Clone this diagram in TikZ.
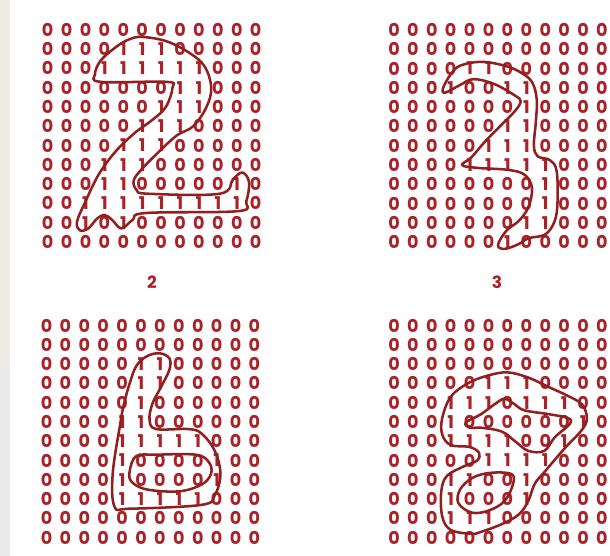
\documentclass[tikz,border=0pt]{standalone}
\usepackage{fontspec}
\setmainfont{Poppins}
\usetikzlibrary{positioning}
\definecolor{inkred}{RGB}{170,34,40}
\definecolor{penred}{RGB}{146,30,32}
\definecolor{marginbeige}{RGB}{237,235,227}
\definecolor{margingrey}{RGB}{234,234,234}

\begin{document}
\begin{tikzpicture}[
    x=0.025cm, y=-0.025cm,
    cell/.style={inner sep=0pt, text=inkred, font=\bfseries\fontsize{12.5}{12.5}\selectfont},
    caption/.style={inner sep=0pt, text=inkred, font=\bfseries\fontsize{12}{12}\selectfont},
    penline/.style={draw=penred, line width=1.8pt, line join=round},
    gridunits/.style={x=0.4725cm, y=-0.482cm}
]
    \useasboundingbox (0,0) rectangle (610,556);
    \fill[marginbeige] (0,0) rectangle (10,367);
    \fill[margingrey] (0,367) rectangle (10,556);

    % digit 2
    \begin{scope}[shift={(47.7,29.8)}, gridunits]
        \foreach \line [count=\r from 0] in {
            {0,0,0,0,0,0,0,0,0,0,0,0},
            {0,0,0,0,1,1,1,0,0,0,0,0},
            {0,0,0,1,1,1,1,1,1,0,0,0},
            {0,0,0,0,0,0,0,1,1,0,0,0},
            {0,0,0,0,0,0,1,1,1,0,0,0},
            {0,0,0,0,0,1,1,1,0,0,0,0},
            {0,0,0,0,1,1,1,0,0,0,0,0},
            {0,0,0,1,1,1,0,0,0,0,0,0},
            {0,0,0,1,1,0,0,0,0,0,1,0},
            {0,0,1,1,1,1,1,1,1,1,1,0},
            {0,0,1,0,1,0,0,0,0,0,0,0},
            {0,0,0,0,0,0,0,0,0,0,0,0}}
            \foreach \v [count=\c from 0] in \line
                \node[cell] (two-\r-\c) at (\c,\r) {\v};
        \draw[penline] plot[smooth cycle, tension=0.6] coordinates {
            (5.0,0.37) (6.3,0.6) (7.5,1.2) (8.3,1.9) (8.65,3.0) (8.4,4.0) (7.7,5.0)
            (6.8,5.5) (5.7,6.5) (5.0,7.2) (4.55,7.8) (4.7,8.3) (5.3,8.5) (9.1,8.5)
            (9.8,7.75) (10.3,7.4) (10.65,7.9) (10.5,8.9) (10.1,9.4) (5.2,9.5) (4.5,9.85)
            (3.9,10.3) (3.4,9.85) (3.0,9.6) (2.6,9.8) (2.15,10.3) (1.7,10.4) (1.55,9.95)
            (2.0,8.9) (2.7,7.5) (3.6,6.3) (4.6,5.35) (5.5,4.7) (6.25,4.0) (6.6,3.0)
            (6.3,2.7) (2.8,2.7) (2.5,2.3) (2.8,1.6) (3.6,0.9) (4.3,0.5)};
    \end{scope}
    \node[caption] (captwo) at (152,282) {2};

    % digit 3
    \begin{scope}[shift={(394,30)}, gridunits]
        \foreach \line [count=\r from 0] in {
            {0,0,0,0,0,0,0,0,0,0,0,0},
            {0,0,0,0,0,0,0,0,0,0,0,0},
            {0,0,0,0,1,1,0,0,0,0,0,0},
            {0,0,0,1,0,0,1,1,0,0,0,0},
            {0,0,0,0,0,0,0,1,0,0,0,0},
            {0,0,0,0,0,0,1,1,0,0,0,0},
            {0,0,0,0,0,1,1,1,0,0,0,0},
            {0,0,0,0,1,1,1,1,1,0,0,0},
            {0,0,0,0,0,0,0,0,1,0,0,0},
            {0,0,0,0,0,0,0,0,1,0,0,0},
            {0,0,0,0,0,0,0,1,1,0,0,0},
            {0,0,0,0,0,0,1,0,0,0,0,0}}
            \foreach \v [count=\c from 0] in \line
                \node[cell] (three-\r-\c) at (\c,\r) {\v};
        \draw[penline] plot[smooth cycle, tension=0.6] coordinates {
            (3.0,2.3) (3.5,1.85) (4.6,1.65) (5.85,1.85) (6.7,2.2) (7.3,2.7) (7.55,3.6)
            (7.5,4.8) (7.4,6.0) (7.6,6.55) (8.25,6.75) (8.6,7.3) (8.65,8.9) (8.5,9.9)
            (8.0,10.6) (7.1,10.8) (6.6,11.1) (5.85,11.35) (5.5,11.15) (5.95,10.4)
            (6.6,9.9) (7.1,9.2) (7.3,8.2) (6.9,7.5) (6.0,7.25) (4.4,7.15) (3.6,7.0)
            (4.1,6.6) (4.8,5.8) (5.7,4.9) (6.4,4.2) (6.7,3.7) (6.4,3.4) (5.3,2.8)
            (4.2,2.55) (3.5,2.85) (2.7,3.25) (2.6,3.0)};
    \end{scope}
    \node[caption] (capthree) at (497,282) {3};

    % digit 6
    \begin{scope}[shift={(46.5,325.5)}, gridunits]
        \foreach \line [count=\r from 0] in {
            {0,0,0,0,0,0,0,0,0,0,0,0},
            {0,0,0,0,0,0,0,0,0,0,0,0},
            {0,0,0,0,0,1,1,0,0,0,0,0},
            {0,0,0,0,0,1,1,0,0,0,0,0},
            {0,0,0,0,0,1,0,0,0,0,0,0},
            {0,0,0,0,1,1,0,0,0,0,0,0},
            {0,0,0,0,1,1,1,1,1,0,0,0},
            {0,0,0,0,1,0,0,0,0,1,0,0},
            {0,0,0,0,1,0,0,0,0,1,0,0},
            {0,0,0,0,1,1,1,1,1,0,0,0},
            {0,0,0,0,0,0,0,0,0,0,0,0},
            {0,0,0,0,0,0,0,0,0,0,0,0}}
            \foreach \v [count=\c from 0] in \line
                \node[cell] (six-\r-\c) at (\c,\r) {\v};
        \draw[penline] plot[smooth cycle, tension=0.6] coordinates {
            (5.97,1.44) (6.5,1.7) (6.5,2.3) (6.05,3.2) (5.6,4.06) (5.45,4.9) (5.8,5.37)
            (7.5,5.37) (8.2,5.6) (8.9,6.5) (9.2,7.7) (8.9,8.8) (8.2,9.3) (4.4,9.5)
            (3.6,9.4) (3.5,7.7) (3.9,5.1) (4.1,4.06) (4.4,3.0) (4.75,2.1) (5.3,1.6)};
        \draw[penline] plot[smooth cycle, tension=0.6] coordinates {
            (4.4,7.55) (4.75,6.77) (5.8,6.7) (7.9,6.7) (8.6,7.1) (8.7,7.7) (8.2,8.25)
            (7.0,8.6) (5.3,8.5) (4.5,8.1)};
    \end{scope}

    % digit 9
    \begin{scope}[shift={(394,325.5)}, gridunits]
        \foreach \line [count=\r from 0] in {
            {0,0,0,0,0,0,0,0,0,0,0,0},
            {0,0,0,0,0,0,0,0,0,0,0,0},
            {0,0,0,0,0,0,0,0,0,0,0,0},
            {0,0,0,0,0,1,1,1,0,0,0,0},
            {0,0,0,1,1,1,0,1,1,1,0,0},
            {0,0,0,1,0,0,0,0,0,0,1,0},
            {0,0,0,1,1,1,1,0,0,1,0,0},
            {0,0,0,0,0,1,1,1,1,0,0,0},
            {0,0,0,1,1,0,0,1,0,0,0,0},
            {0,0,0,1,0,0,0,1,0,0,0,0},
            {0,0,0,1,1,1,0,0,0,0,0,0},
            {0,0,0,0,0,0,0,0,0,0,0,0}}
            \foreach \v [count=\c from 0] in \line
                \node[cell] (nine-\r-\c) at (\c,\r) {\v};
        \draw[penline] plot[smooth cycle, tension=0.6] coordinates {
            (6.0,2.43) (7.1,2.7) (8.2,3.2) (9.2,3.65) (9.95,4.1) (10.2,4.8) (9.95,5.4)
            (9.0,6.4) (8.0,7.55) (7.45,8.2) (7.1,9.1) (6.6,9.8) (5.7,10.3) (4.6,10.7)
            (4.1,10.8) (3.0,10.6) (2.55,9.9) (2.5,8.6) (2.8,7.8) (3.7,7.3) (4.4,7.0)
            (4.5,6.6) (4.0,6.3) (3.0,6.2) (2.55,5.65) (2.55,4.8) (3.0,3.7) (3.9,3.0)
            (4.95,2.6)};
        \draw[penline] plot[smooth cycle, tension=0.6] coordinates {
            (3.8,5.03) (4.6,4.6) (5.3,4.1) (5.85,3.8) (6.4,4.1) (6.9,4.4) (8.2,4.6)
            (9.2,4.8) (9.3,5.1) (8.5,5.8) (7.95,6.5) (7.1,6.5) (6.4,6.0) (5.7,5.5)
            (4.6,5.3) (4.0,5.3)};
        \draw[penline] plot[smooth cycle, tension=0.6] coordinates {
            (3.5,8.5) (4.15,7.9) (5.1,7.64) (6.2,7.7) (6.3,8.2) (5.85,9.1) (5.0,9.6)
            (4.1,9.7) (3.4,9.2)};
    \end{scope}
\end{tikzpicture}
\end{document}
